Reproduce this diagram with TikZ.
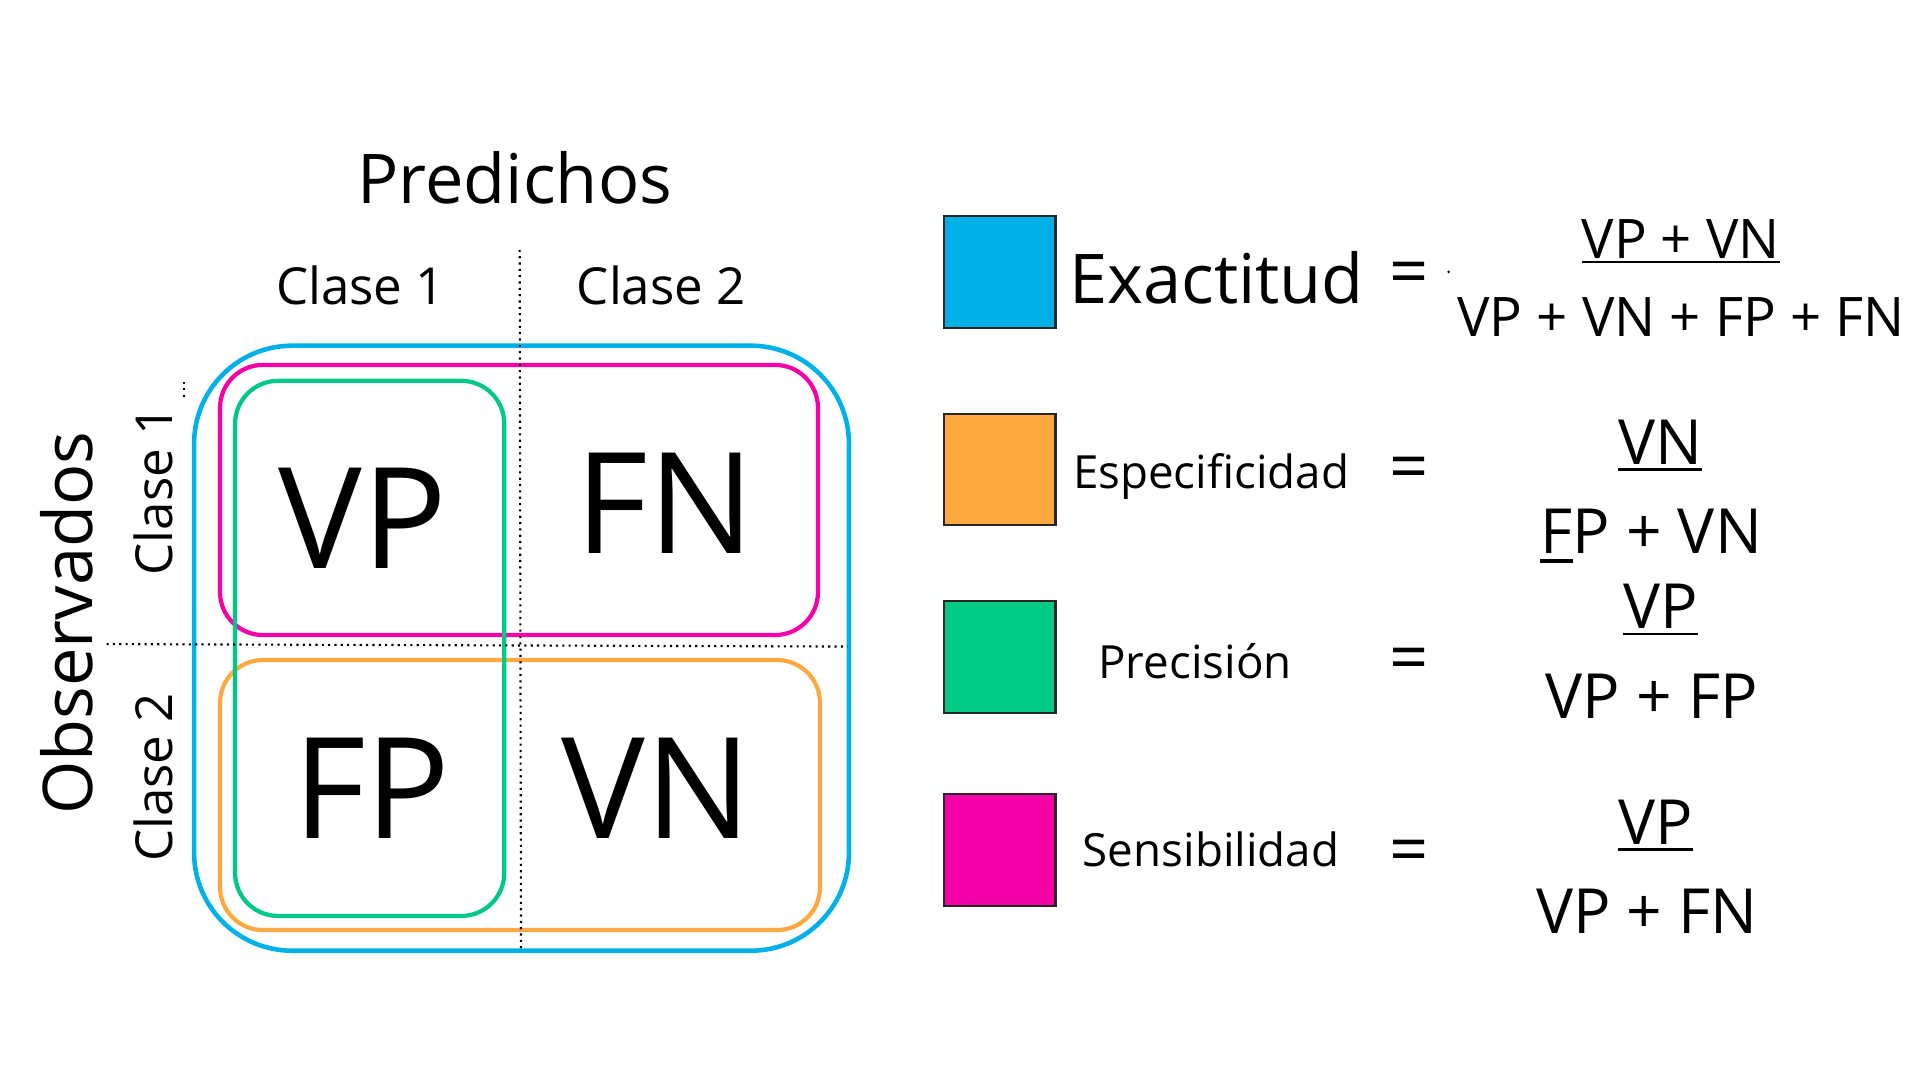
\documentclass[tikz,border=0pt]{standalone}
\usepackage{fontspec}
\setmainfont{Open Sans}
\definecolor{azul}{RGB}{0,176,232}
\definecolor{naranja}{RGB}{255,168,64}
\definecolor{verde}{RGB}{0,200,135}
\definecolor{rosa}{RGB}{246,0,168}
\newcommand{\subr}[3]{{\setbox0\hbox{#3}\rlap{\rule[-#1]{\wd0}{#2}}\box0}}
\tikzset{
  caja/.style={line width=1.2pt,rounded corners=12.2pt},
  rejilla/.style={line width=0.6pt,dash pattern=on 0.6pt off 1.2pt},
  celda/.style={anchor=base,inner sep=0pt,font=\fontsize{40}{48}\selectfont},
  titulo/.style={anchor=base,inner sep=0pt,font=\fontsize{19.5}{23}\selectfont},
  clase/.style={anchor=base,inner sep=0pt,font=\fontsize{14.5}{17}\selectfont},
  muestra/.style={draw=black!85,line width=0.6pt,inner sep=0pt,minimum size=31.7pt},
  leyenda/.style={anchor=base,inner sep=0pt,font=\fontsize{13}{16}\selectfont},
  igual/.style={inner sep=0pt,font=\fontsize{19.5}{23}\selectfont},
  fracA/.style={anchor=base,inner sep=0pt,font=\fontsize{15.5}{19}\selectfont},
  fracB/.style={anchor=base,inner sep=0pt,font=\fontsize{17.7}{21}\selectfont}
}
\begin{document}
\begin{tikzpicture}[x=0.012245cm,y=-0.012245cm]
  \useasboundingbox (0,0) rectangle (1568,882);
  \begin{scope}
    \draw[caja,azul,line width=1.3pt,rounded corners=27.9pt] (158.5,282.3) rectangle (693.3,776.4);
    \draw[caja,rosa] (179.7,298) rectangle (668,518.6);
    \draw[caja,naranja] (179.7,539) rectangle (669.7,759.5);
    \draw[caja,verde] (192,311) rectangle (411.8,748);
  \end{scope}
  \begin{scope}
    \draw[rejilla] (424.4,204) -- (425.5,776);
    \draw[rejilla] (87,526) -- (692,528);
    \draw[rejilla] (150,312) -- (150,326);
    \fill (1183,222) circle (0.4pt);
  \end{scope}
  \node[titulo] (pred) at (420.5,166) {Predichos};
  \node[titulo,rotate=90] (obs) at (75.7,509) {Observados};
  \node[clase] (c1) at (294.5,249) {Clase 1};
  \node[clase] (c2) at (540,249) {Clase 2};
  \node[clase,rotate=90] (f1) at (141,401) {Clase 1};
  \node[clase,rotate=90] (f2) at (141,635) {Clase 2};
  \node[celda] (vp) at (296.5,464) {VP};
  \node[celda] (fn) at (543,452.4) {FN};
  \node[celda] (fp) at (303.6,685) {FP};
  \node[celda] (vn) at (536,684.5) {VN};
  \node[muestra,fill=azul] (m1) at (816.5,222) {};
  \node[muestra,fill=naranja] (m2) at (816.5,383.5) {};
  \node[muestra,fill=verde] (m3) at (816.5,536.5) {};
  \node[muestra,fill=rosa] (m4) at (816.5,694) {};
  \node[leyenda,font=\fontsize{19.5}{23}\selectfont] (exa) at (993.5,247.7) {Exactitud};
  \node[leyenda] (esp) at (989,399) {Especificidad};
  \node[leyenda] (pre) at (976,554) {Precisión};
  \node[leyenda] (sen) at (989,708) {Sensibilidad};
  \node[igual] (i1) at (1151,228) {=};
  \node[igual] (i2) at (1151,387) {=};
  \node[igual] (i3) at (1151,543) {=};
  \node[igual] (i4) at (1151,700) {=};
  \node[fracA] (n1) at (1372.6,211.4) {\subr{1.3pt}{0.75pt}{VP + VN}};
  \node[fracA] (d1) at (1373,274.7) {VP + VN + FP + FN};
  \node[fracB] (n2) at (1356,379) {\subr{1.9pt}{0.75pt}{VN}};
  \node[fracB] (d2) at (1348.5,452) {\subr{2.7pt}{1.2pt}{F}P + VN};
  \node[fracB] (n3) at (1356,513.5) {\subr{1.9pt}{0.75pt}{VP}};
  \node[fracB] (d3) at (1349,586.4) {VP + FP};
  \node[fracB] (n4) at (1352,689.5) {\subr{1.9pt}{0.75pt}{VP}};
  \node[fracB] (d4) at (1345,762.4) {VP + FN};
\end{tikzpicture}
\end{document}
